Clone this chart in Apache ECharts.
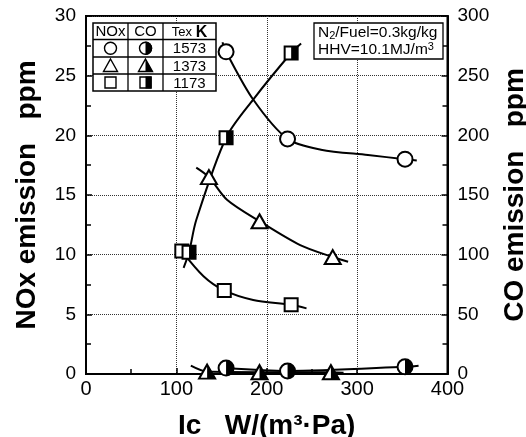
<!DOCTYPE html>
<html><head><meta charset="utf-8">
<script src="https://cdn.jsdelivr.net/npm/echarts@6/dist/echarts.min.js"></script>
<style>html,body{margin:0;padding:0;background:#fff}#c{width:526px;height:437px}</style>
</head><body><div id="c"></div>
<script>
const FONT = "'Liberation Sans', Arial, Helvetica, sans-serif";

// ---- data: [Ic, value] ----
const nox1573 = [[155, 27.0], [223, 19.7], [353, 18.0]];
const nox1373 = [[136, 16.5], [192, 12.8], [273, 9.8]];
const nox1173 = [[106, 10.3], [153, 7.0], [227, 5.8]];
const co1573 = [[155, 5], [223, 2.5], [353, 6]];
const co1373 = [[134, 2], [192, 1.5], [271, 1.5]];
const co1173 = [[114, 102], [155, 198], [227, 269]];

// fitted curves as drawn in the picture
const fitNox1573 = [[151, 27.8], [155, 27.0], [185, 23.0], [223, 19.7], [260, 18.8], [312, 18.35], [353, 18.0], [366, 17.9]];
const fitNox1373 = [[122, 17.3], [136, 16.5], [156, 14.6], [192, 12.8], [237, 10.8], [273, 9.8], [290, 9.4]];
const fitNox1173 = [[106, 10.3], [130, 8.2], [153, 7.0], [185, 6.2], [227, 5.8], [244, 5.5]];
const fitCo1573 = [[155, 5], [223, 2.5], [353, 6], [368, 7]];
const fitCo1373 = [[116, 7], [134, 2], [192, 1.5], [271, 1.5], [285, 1]];
const fitCo1173 = [[108, 89], [114, 102], [122, 129], [155, 198], [185, 230], [227, 269], [238, 277]];

const tempLabels = ['1573', '1373', '1173'];
const xTitle = 'Ic   W/(m\u00B3\u00B7Pa)';
const yLeftTitle = 'NOx emission   ppm';
const yRightTitle = 'CO emission   ppm';

// ---- chart ----
const chart = echarts.init(document.getElementById('c'), null, { renderer: 'canvas' });

function fitLine(data, yIdx) {
  return { type: 'line', data: data, yAxisIndex: yIdx, smooth: 0.3, showSymbol: false, symbol: 'none',
    lineStyle: { color: '#000', width: 2 }, silent: true, z: 2 };
}
function openMarks(data, yIdx, symbol, size) {
  return { type: 'scatter', data: data, yAxisIndex: yIdx, symbol: symbol, symbolSize: size,
    itemStyle: { color: '#fff', borderColor: '#000', borderWidth: 2, opacity: 1 }, z: 3 };
}
function halfMarks(data, yIdx, path, size) {
  return { type: 'scatter', data: data, yAxisIndex: yIdx, symbol: path,
    symbolSize: [size[0] / 2, size[1]], symbolOffset: [size[0] / 4, 0],
    itemStyle: { color: '#000', borderWidth: 0, opacity: 1 }, z: 4 };
}
const HALF_CIRCLE = 'path://M0,0 A10,10 0 0 1 0,20 Z';
const HALF_TRI = 'path://M0,0 L10,20 L0,20 Z';
const HALF_RECT = 'path://M0,0 L10,0 L10,20 L0,20 Z';
const SC = 15, ST = [16, 14], SR = 13;

const axisText = { color: '#000', fontFamily: FONT, fontSize: 19 };
const titleText = { color: '#000', fontFamily: FONT, fontWeight: 'bold', fontSize: 28 };
const dotted = { show: true, lineStyle: { type: 'dotted', color: '#333', width: 1 } };

// legend table graphic
const TX = [93, 128, 163, 216];
const TY = [23, 39.5, 57, 74, 91];
const g = [];
g.push({ type: 'rect', shape: { x: TX[0], y: TY[0], width: TX[3] - TX[0], height: TY[4] - TY[0] },
  style: { fill: '#fff', stroke: '#000', lineWidth: 1.5 }, z: 10 });
for (let i = 1; i < 3; i++) g.push({ type: 'line', shape: { x1: TX[i], y1: TY[0], x2: TX[i], y2: TY[4] }, style: { stroke: '#000', lineWidth: 1.3 }, z: 11 });
for (let j = 1; j < 4; j++) g.push({ type: 'line', shape: { x1: TX[0], y1: TY[j], x2: TX[3], y2: TY[j] }, style: { stroke: '#000', lineWidth: 1.3 }, z: 11 });
function txt(x, y, text, font, extra) {
  return Object.assign({ type: 'text', x: x, y: y, z: 12,
    style: { text: text, font: font, fill: '#000', align: 'center', verticalAlign: 'middle', textAlign: 'center', textVerticalAlign: 'middle' } }, extra || {});
}
const cx0 = (TX[0] + TX[1]) / 2, cx1 = (TX[1] + TX[2]) / 2, cx2 = (TX[2] + TX[3]) / 2;
const hy = (TY[0] + TY[1]) / 2;
g.push(txt(cx0, hy + 1, 'NOx', '15px ' + FONT));
g.push(txt(cx1, hy + 1, 'CO', '15px ' + FONT));
g.push({ type: 'text', x: cx2, y: hy + 1, z: 12,
  style: { text: '{a|Tex }{b|K}', fill: '#000', align: 'center', verticalAlign: 'middle', textAlign: 'center', textVerticalAlign: 'middle',
    rich: { a: { fontFamily: FONT, fontSize: 13, fill: '#000' }, b: { fontFamily: FONT, fontSize: 16, fontWeight: 'bold', fill: '#000' } } } });
const rowY = [(TY[1] + TY[2]) / 2, (TY[2] + TY[3]) / 2, (TY[3] + TY[4]) / 2];
const sty = { fill: '#fff', stroke: '#000', lineWidth: 1.4 };
// circle row
g.push({ type: 'circle', shape: { cx: cx0, cy: rowY[0], r: 6 }, style: sty, z: 12 });
g.push({ type: 'circle', shape: { cx: cx1, cy: rowY[0], r: 6 }, style: sty, z: 12 });
g.push({ type: 'sector', shape: { cx: cx1, cy: rowY[0], r: 6.7, r0: 0, startAngle: -Math.PI / 2, endAngle: Math.PI / 2 }, style: { fill: '#000' }, z: 13 });
// triangle row
function triPts(cx, cy) { return [[cx, cy - 6.5], [cx + 7, cy + 6], [cx - 7, cy + 6]]; }
g.push({ type: 'polygon', shape: { points: triPts(cx0, rowY[1]) }, style: sty, z: 12 });
g.push({ type: 'polygon', shape: { points: triPts(cx1, rowY[1]) }, style: sty, z: 12 });
g.push({ type: 'polygon', shape: { points: [[cx1, rowY[1] - 6.5], [cx1 + 7.5, rowY[1] + 6.5], [cx1, rowY[1] + 6.5]] }, style: { fill: '#000' }, z: 13 });
// square row
g.push({ type: 'rect', shape: { x: cx0 - 5.5, y: rowY[2] - 5.5, width: 11, height: 11 }, style: sty, z: 12 });
g.push({ type: 'rect', shape: { x: cx1 - 5.5, y: rowY[2] - 5.5, width: 11, height: 11 }, style: sty, z: 12 });
g.push({ type: 'rect', shape: { x: cx1, y: rowY[2] - 6, width: 6.2, height: 12 }, style: { fill: '#000' }, z: 13 });
for (let i = 0; i < 3; i++) g.push(txt(cx2, rowY[i] + 1, tempLabels[i], '15px ' + FONT));

// condition box
g.push({ type: 'rect', shape: { x: 314, y: 23, width: 129, height: 36 }, style: { fill: '#fff', stroke: '#000', lineWidth: 1.3 }, z: 10 });
g.push({ type: 'text', x: 318, y: 33, z: 12, style: { text: 'N{s|2}/Fuel=0.3kg/kg', fill: '#000', align: 'left', verticalAlign: 'middle', textAlign: 'left', textVerticalAlign: 'middle',
  fontFamily: FONT, fontSize: 15.5, rich: { s: { fontFamily: FONT, fontSize: 11, fill: '#000', padding: [6, 0, 0, 0] } } } });
g.push({ type: 'text', x: 318, y: 50, z: 12, style: { text: 'HHV=10.1MJ/m{s|3}', fill: '#000', align: 'left', verticalAlign: 'middle', textAlign: 'left', textVerticalAlign: 'middle',
  fontFamily: FONT, fontSize: 15.5, rich: { s: { fontFamily: FONT, fontSize: 11, fill: '#000', padding: [0, 0, 6, 0] } } } });

const option = {
  backgroundColor: '#fff',
  animation: false,
  grid: { left: 86, right: 78.5, top: 16, bottom: 63, containLabel: false, outerBoundsMode: 'none',
    show: true, borderColor: '#000', borderWidth: 2, backgroundColor: 'transparent' },
  xAxis: {
    type: 'value', min: 0, max: 400, interval: 100,
    name: xTitle, nameLocation: 'middle', nameGap: 38, nameTextStyle: titleText,
    axisLine: { show: true, onZero: false, lineStyle: { color: '#000', width: 2 } },
    axisTick: { show: true, inside: true, length: 6, lineStyle: { color: '#000', width: 1.5 } },
    minorTick: { show: true, splitNumber: 2, length: 5, lineStyle: { color: '#000', width: 1.5 } },
    axisLabel: Object.assign({ margin: 5 }, axisText, { fontSize: 20 }),
    splitLine: dotted
  },
  yAxis: [{
    type: 'value', min: 0, max: 30, interval: 5, position: 'left',
    name: yLeftTitle, nameLocation: 'middle', nameRotate: 90, nameGap: 45, nameTextStyle: titleText,
    axisLine: { show: true, onZero: false, lineStyle: { color: '#000', width: 2 } },
    axisTick: { show: true, inside: true, length: 6, lineStyle: { color: '#000', width: 1.5 } },
    minorTick: { show: true, splitNumber: 2, length: 5, lineStyle: { color: '#000', width: 1.5 } },
    axisLabel: Object.assign({ margin: 10 }, axisText),
    splitLine: dotted
  }, {
    type: 'value', min: 0, max: 300, interval: 50, position: 'right',
    name: yRightTitle, nameLocation: 'middle', nameRotate: 90, nameGap: 54, nameTextStyle: titleText,
    axisLine: { show: true, onZero: false, lineStyle: { color: '#000', width: 2 } },
    axisTick: { show: true, inside: true, length: 6, lineStyle: { color: '#000', width: 1.5 } },
    minorTick: { show: true, splitNumber: 2, length: 5, lineStyle: { color: '#000', width: 1.5 } },
    axisLabel: Object.assign({ margin: 10 }, axisText),
    splitLine: { show: false }
  }],
  graphic: g,
  series: [
    fitLine(fitNox1573, 0), fitLine(fitNox1373, 0), fitLine(fitNox1173, 0),
    fitLine(fitCo1573, 1), fitLine(fitCo1373, 1), fitLine(fitCo1173, 1),
    openMarks(nox1573, 0, 'circle', SC), openMarks(nox1373, 0, 'triangle', ST), openMarks(nox1173, 0, 'rect', SR),
    openMarks(co1573, 1, 'circle', SC), openMarks(co1373, 1, 'triangle', ST), openMarks(co1173, 1, 'rect', SR),
    halfMarks(co1573, 1, HALF_CIRCLE, [SC, SC]), halfMarks(co1373, 1, HALF_TRI, ST), halfMarks(co1173, 1, HALF_RECT, [SR, SR])
  ]
};
chart.setOption(option);
</script>
</body></html>
